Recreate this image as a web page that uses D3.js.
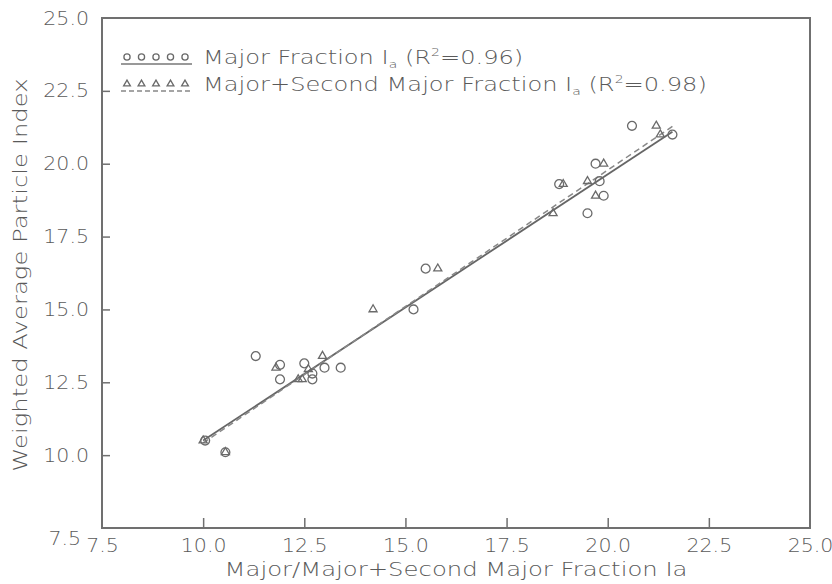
<!DOCTYPE html>
<html><head><meta charset="utf-8">
<script src="https://cdn.jsdelivr.net/npm/d3@7"></script>
<style>
body{margin:0;background:#fff;}
text{font-family:"DejaVu Sans",sans-serif;fill:#5a5a5a;font-weight:200;}
</style></head>
<body><svg id="c" width="832" height="584"></svg>
<script>
const xTicks = [7.5,10.0,12.5,15.0,17.5,20.0,22.5,25.0];
const yTicks = [7.5,10.0,12.5,15.0,17.5,20.0,22.5,25.0];
const circleX = [10.05,10.55,11.3,11.9,11.9,12.5,12.7,12.7,13.0,13.4,15.2,15.5,18.8,19.5,19.7,19.8,19.9,20.6,21.6];
const circleY = [10.5,10.1,13.4,13.1,12.6,13.15,12.8,12.6,13.0,13.0,15.0,16.4,19.3,18.3,20.0,19.4,18.9,21.3,21.0];
const triX = [10.0,10.55,11.8,12.35,12.45,12.6,12.95,14.2,15.8,18.65,18.9,19.5,19.7,19.9,21.2,21.3];
const triY = [10.5,10.1,13.0,12.6,12.6,12.95,13.4,15.0,16.4,18.3,19.3,19.4,18.9,20.0,21.3,21.0];
const fitMajorX = [10.0,21.6];
const fitMajorY = [10.5,21.1];
const fitBothX = [10.0,21.6];
const fitBothY = [10.42,21.28];

const svg = d3.select("#c");
const L=102,R=810,T=18,B=528;
const x = d3.scaleLinear().domain([7.5,25]).range([L,R]);
const y = d3.scaleLinear().domain([7.5,25]).range([B,T]);
const grey="#707070";

function widen(sel,f){
  sel.each(function(){
    const w=this.getComputedTextLength();
    d3.select(this).attr("textLength",w*f).attr("lengthAdjust","spacingAndGlyphs");
  });
}

// frame
svg.append("rect").attr("x",L).attr("y",T).attr("width",R-L).attr("height",B-T)
  .attr("fill","none").attr("stroke",grey).attr("stroke-width",2);

// axes
const fmt=d3.format(".1f");
const xa = svg.append("g").attr("transform",`translate(0,${B})`)
  .call(d3.axisBottom(x).tickValues(xTicks).tickFormat(fmt).tickSizeInner(-10).tickSizeOuter(0).tickPadding(11));
xa.select(".domain").remove();
xa.selectAll("line").attr("stroke",grey).attr("stroke-width",1.5);
xa.selectAll("text").attr("font-size",19).attr("fill","#5a5a5a").attr("font-family","DejaVu Sans");
xa.selectAll(".tick").filter(d=>d===7.5||d===25).select("line").remove();
widen(xa.selectAll("text"),1.08);

const ya = svg.append("g").attr("transform",`translate(${L},0)`)
  .call(d3.axisLeft(y).tickValues(yTicks).tickFormat(fmt).tickSizeInner(-8).tickSizeOuter(0).tickPadding(13));
ya.select(".domain").remove();
ya.selectAll("line").attr("stroke",grey).attr("stroke-width",1.5);
ya.selectAll("text").attr("font-size",19).attr("fill","#5a5a5a").attr("font-family","DejaVu Sans");
ya.selectAll(".tick").filter(d=>d===7.5).select("text").attr("dy","0.85em").attr("dx",-8);
ya.selectAll(".tick").filter(d=>d===7.5||d===25).select("line").remove();
widen(ya.selectAll("text"),1.08);

// titles
const xt = svg.append("text").attr("x",(L+R)/2).attr("y",576).attr("text-anchor","middle")
  .attr("font-size",19).text("Major/Major+Second Major Fraction Ia");
widen(xt,1.28);
const yt = svg.append("text").attr("transform",`translate(27,${(T+B)/2+2}) rotate(-90)`).attr("text-anchor","middle")
  .attr("font-size",19).text("Weighted Average Particle Index");
widen(yt,1.28);

// fit lines
const line=d3.line().x(d=>x(d[0])).y(d=>y(d[1]));
svg.append("path").attr("d",line(d3.zip(fitMajorX,fitMajorY))).attr("fill","none").attr("stroke","#666").attr("stroke-width",1.8);
svg.append("path").attr("d",line(d3.zip(fitBothX,fitBothY))).attr("fill","none").attr("stroke","#888").attr("stroke-width",1.5).attr("stroke-dasharray","6,4");

// markers
const circ = d3.symbol().type(d3.symbolCircle).size(62);
const tri = d3.symbol().type(d3.symbolTriangle).size(28);
svg.append("g").selectAll("path").data(d3.zip(circleX,circleY)).join("path")
  .attr("d",circ).attr("transform",d=>`translate(${x(d[0])},${y(d[1])})`)
  .attr("fill","none").attr("stroke","#6a6a6a").attr("stroke-width",1.3);
svg.append("g").selectAll("path").data(d3.zip(triX,triY)).join("path")
  .attr("d",tri).attr("transform",d=>`translate(${x(d[0])},${y(d[1])})`)
  .attr("fill","none").attr("stroke","#6a6a6a").attr("stroke-width",1.3);

// legend
const lg = svg.append("g");
const lx0=121, lx1=192;
const sym5=[0,1,2,3,4];
lg.selectAll(".lc").data(sym5).join("path").attr("d",d3.symbol().type(d3.symbolCircle).size(30))
  .attr("transform",d=>`translate(${lx0+6+d*14.5},57)`).attr("fill","none").attr("stroke","#6a6a6a").attr("stroke-width",1.3);
lg.append("line").attr("x1",lx0).attr("x2",lx1).attr("y1",64).attr("y2",64).attr("stroke","#777").attr("stroke-width",1.5);
lg.selectAll(".lt").data(sym5).join("path").attr("d",d3.symbol().type(d3.symbolTriangle).size(20))
  .attr("transform",d=>`translate(${lx0+6+d*14.5},84)`).attr("fill","none").attr("stroke","#6a6a6a").attr("stroke-width",1.3);
lg.append("line").attr("x1",lx0).attr("x2",lx1).attr("y1",91).attr("y2",91).attr("stroke","#888").attr("stroke-width",1.5).attr("stroke-dasharray","5,3");

function legText(yy, label, r2){
  const g = lg.append("g").attr("transform",`translate(203,0) scale(1.27,1)`);
  const t = g.append("text").attr("x",0).attr("y",yy).attr("font-size",19);
  t.append("tspan").text(label+" I");
  t.append("tspan").attr("font-size",11).attr("dy",4).text("a");
  t.append("tspan").attr("dy",-4).text(" (R");
  t.append("tspan").attr("font-size",11).attr("dy",-8).text("2");
  t.append("tspan").attr("dy",8).text("="+r2+")");
}
legText(64,"Major Fraction","0.96");
legText(91,"Major+Second Major Fraction","0.98");
</script></body></html>
